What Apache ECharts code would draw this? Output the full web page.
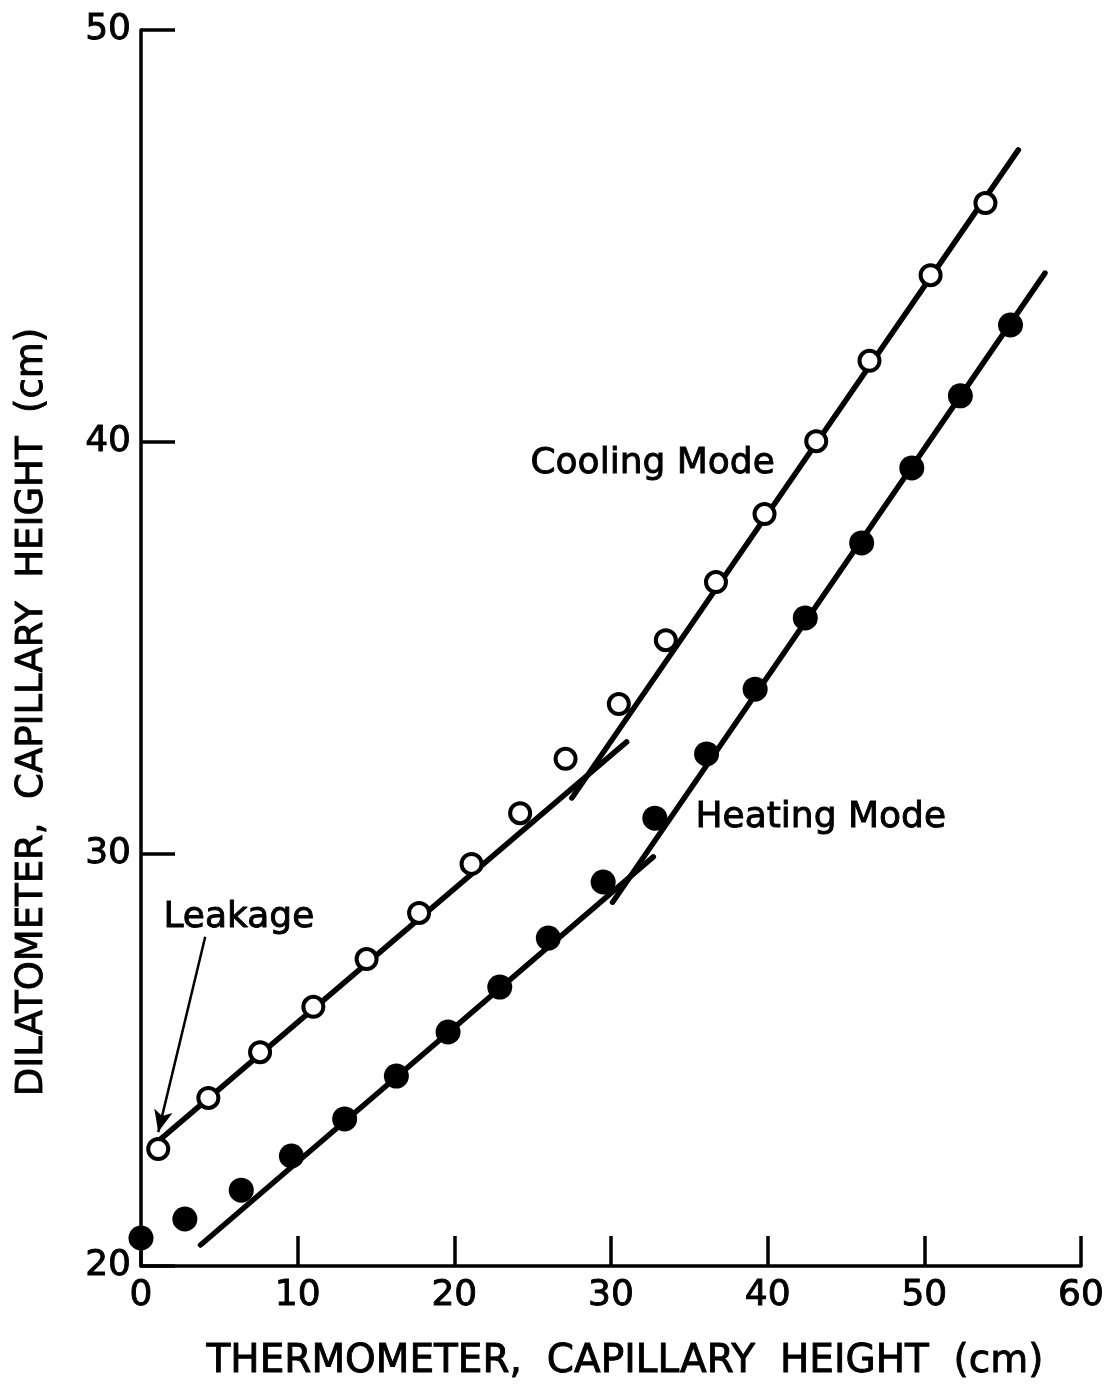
<!DOCTYPE html>
<html>
<head>
<meta charset="utf-8">
<script src="https://cdn.jsdelivr.net/npm/echarts@6/dist/echarts.min.js"></script>
<style>
  html, body { margin: 0; padding: 0; background: #fff; }
  #chart { width: 1114px; height: 1384px; }
</style>
</head>
<body>
<div id="chart"></div>
<script>
// Thermometer capillary height (cm) vs dilatometer capillary height (cm)
const coolingX = [1.1, 4.3, 7.6, 11.0, 14.4, 17.75, 21.1, 24.2, 27.1, 30.5, 33.5, 36.7, 39.8, 43.1, 46.5, 50.4, 53.9];
const coolingY = [22.84, 24.08, 25.19, 26.29, 27.45, 28.57, 29.76, 30.99, 32.31, 33.64, 35.19, 36.6, 38.25, 40.02, 41.97, 44.05, 45.8];

const heatingX = [0.0, 2.8, 6.4, 9.6, 13.0, 16.3, 19.6, 22.9, 26.0, 29.5, 32.8, 36.1, 39.2, 42.4, 46.0, 49.2, 52.3, 55.5];
const heatingY = [20.68, 21.14, 21.84, 22.67, 23.57, 24.61, 25.68, 26.77, 27.96, 29.32, 30.87, 32.43, 34.0, 35.73, 37.55, 39.37, 41.12, 42.84];

// Fitted straight segments: [x0, y0, x1, y1]
const coolingLow  = [1.1, 23.03, 31.0, 32.72];
const coolingHigh = [27.5, 31.36, 56.0, 47.09];
const heatingLow  = [3.8, 20.51, 32.7, 29.93];
const heatingHigh = [30.1, 28.83, 57.7, 44.10];

// Leakage annotation arrow: [x0, y0, x1, y1]
const leakageArrow = [4.1, 27.99, 1.1, 23.25];

const xTicks = [0, 10, 20, 30, 40, 50, 60];
const yTicks = [20, 30, 40, 50];

const FONT = 'DejaVu Sans';
const INK = '#000';

const zip = (xs, ys) => xs.map((x, i) => [x, ys[i]]);
const seg = s => [[s[0], s[1]], [s[2], s[3]]];

function fitLine(s) {
  return {
    type: 'line',
    data: seg(s),
    symbol: 'none',
    lineStyle: { color: INK, width: 5.5, cap: 'round', opacity: 1 },
    z: 2,
    silent: true
  };
}

// slightly heavier lettering, like pen-drawn labels
const inkText = (font, extra) => Object.assign({
  font: font, fill: INK, stroke: INK, lineWidth: 0.9
}, extra || {});

const chart = echarts.init(document.getElementById('chart'), null, { renderer: 'canvas' });

chart.setOption({
  animation: false,
  backgroundColor: '#fff',
  grid: { left: 141, right: 33, top: 30, bottom: 118, containLabel: false },
  xAxis: {
    type: 'value',
    min: xTicks[0],
    max: xTicks[xTicks.length - 1],
    interval: 10,
    axisLine: { lineStyle: { color: INK, width: 3.5 } },
    axisTick: { inside: true, length: 30, lineStyle: { color: INK, width: 3.5 } },
    splitLine: { show: false },
    axisLabel: {
      color: INK, fontFamily: FONT, fontSize: 36, margin: 12,
      textBorderColor: INK, textBorderWidth: 0.9,
      formatter: v => xTicks.includes(v) ? String(v) : ''
    }
  },
  yAxis: {
    type: 'value',
    min: yTicks[0],
    max: yTicks[yTicks.length - 1],
    interval: 10,
    axisLine: { lineStyle: { color: INK, width: 3.5 } },
    axisTick: { inside: true, length: 34, lineStyle: { color: INK, width: 3.5 } },
    splitLine: { show: false },
    axisLabel: {
      color: INK, fontFamily: FONT, fontSize: 36, margin: 10,
      textBorderColor: INK, textBorderWidth: 0.9,
      formatter: v => yTicks.includes(v) ? String(v) : ''
    }
  },
  series: [
    fitLine(coolingLow),
    fitLine(coolingHigh),
    fitLine(heatingLow),
    fitLine(heatingHigh),
    {
      type: 'line',
      data: seg(leakageArrow),
      symbol: 'none',
      lineStyle: { color: INK, width: 2.5 },
      z: 2,
      silent: true,
      markLine: {
        silent: true,
        symbol: ['none', 'arrow'],
        symbolSize: [14, 22],
        label: { show: false },
        lineStyle: { color: INK, width: 0, type: 'solid', opacity: 1 },
        data: [[{ coord: [leakageArrow[0], leakageArrow[1]] }, { coord: [leakageArrow[2], leakageArrow[3]] }]]
      }
    },
    {
      name: 'Cooling Mode',
      type: 'scatter',
      data: zip(coolingX, coolingY),
      symbol: 'circle',
      symbolSize: 20,
      itemStyle: { color: '#fff', borderColor: INK, borderWidth: 4, opacity: 1 },
      z: 5
    },
    {
      name: 'Heating Mode',
      type: 'scatter',
      data: zip(heatingX, heatingY),
      symbol: 'circle',
      symbolSize: 25,
      itemStyle: { color: INK, opacity: 1 },
      z: 5
    }
  ],
  graphic: [
    {
      type: 'text', left: 530, top: 445,
      style: inkText('36px "DejaVu Sans"', { text: 'Cooling Mode' })
    },
    {
      type: 'text', left: 695, top: 799,
      style: inkText('36px "DejaVu Sans"', { text: 'Heating Mode' })
    },
    {
      type: 'text', left: 163, top: 899,
      style: inkText('36px "DejaVu Sans"', { text: 'Leakage' })
    },
    {
      type: 'text', x: 625, y: 1362,
      style: inkText('39px "DejaVu Sans"', {
        text: 'THERMOMETER,  CAPILLARY  HEIGHT  (cm)', align: 'center', verticalAlign: 'middle'
      })
    },
    {
      type: 'text', x: 32, y: 712, rotation: Math.PI / 2,
      style: inkText('37px "DejaVu Sans"', {
        text: 'DILATOMETER,  CAPILLARY  HEIGHT  (cm)', align: 'center', verticalAlign: 'middle'
      })
    }
  ]
});
</script>
</body>
</html>
